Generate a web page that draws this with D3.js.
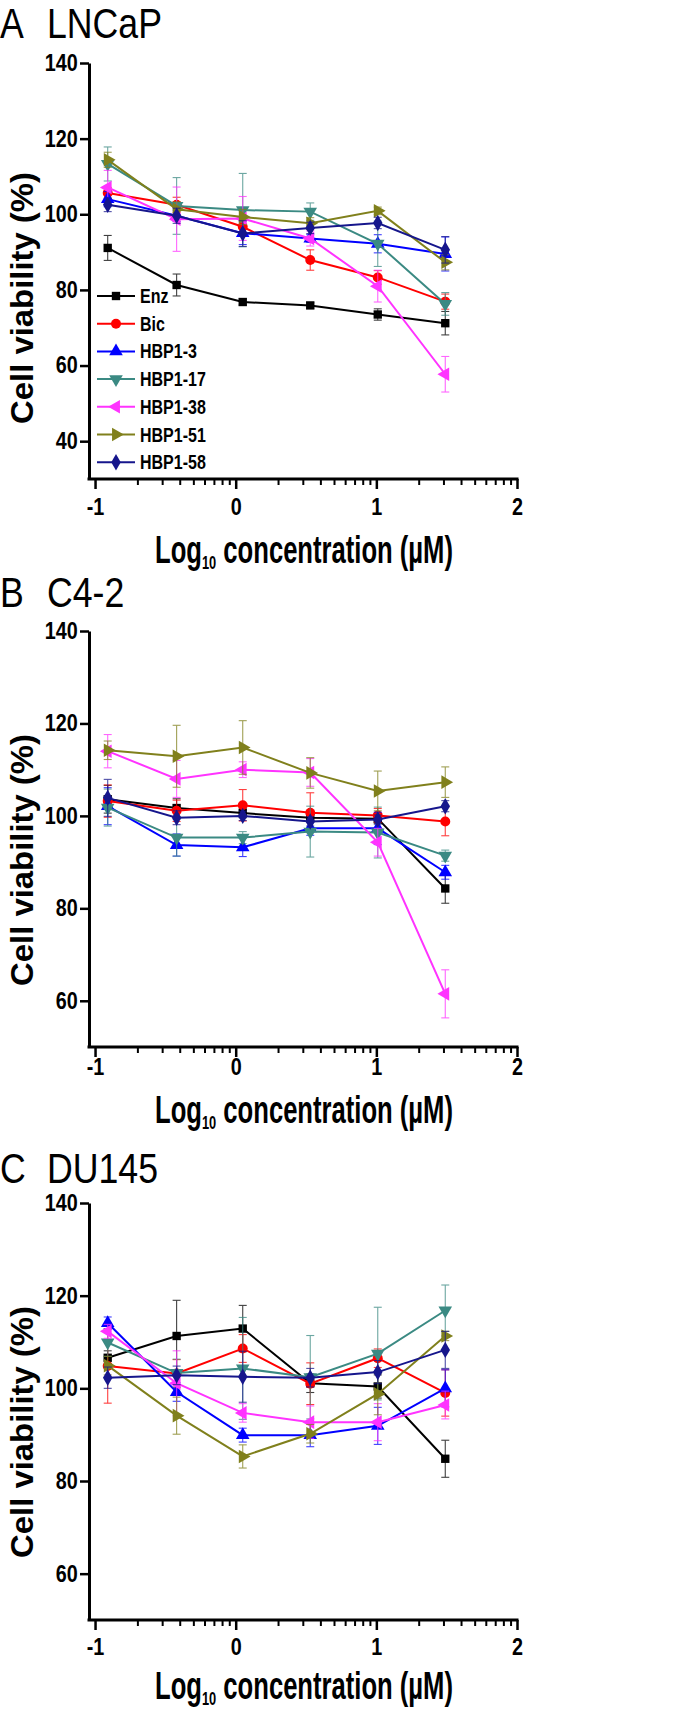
<!DOCTYPE html>
<html>
<head>
<meta charset="utf-8">
<script src="https://cdn.jsdelivr.net/npm/d3@7"></script>
<style>
  body { margin: 0; background: #fff; }
  svg { display: block; font-family: "Liberation Sans", Arial, Helvetica, sans-serif; }
</style>
</head>
<body>
<div id="chart"></div>
<script>
// series + x positions (log10 of concentration in uM)
const seriesNames = ["Enz", "Bic", "HBP1-3", "HBP1-17", "HBP1-38", "HBP1-51", "HBP1-58"];
const logConc = [-0.91, -0.42, 0.05, 0.53, 1.01, 1.49];
const xTickValues = [-1, 0, 1, 2];
const yTicksLncap = [40, 60, 80, 100, 120, 140];
const yTicksOther = [60, 80, 100, 120, 140];

// A  LNCaP
const lncapMean = [
  [91.1, 81.3, 76.8, 75.9, 73.5, 71.2],
  [105.6, 102.5, 96.7, 87.9, 83.3, 76.9],
  [104.0, 99.6, 95.0, 93.6, 92.2, 89.5],
  [113.3, 102.2, 101.1, 100.7, 92.2, 76.3],
  [107.1, 98.7, 98.9, 93.6, 81.0, 57.7],
  [114.4, 101.3, 99.3, 97.6, 100.9, 87.3],
  [102.5, 99.6, 94.9, 96.4, 97.7, 90.6]
];
const lncapSd = [
  [3.3, 2.9, 0.8, 0.7, 1.5, 3.1],
  [1.5, 2.0, 2.0, 2.7, 1.8, 2.0],
  [2.0, 1.5, 3.0, 1.0, 2.4, 4.5],
  [4.5, 7.5, 9.7, 2.3, 6.0, 3.0],
  [4.5, 8.5, 5.8, 2.0, 4.2, 4.7],
  [2.0, 2.0, 2.0, 1.5, 1.0, 2.0],
  [1.8, 2.0, 3.4, 1.5, 1.5, 3.5]
];

// B  C4-2
const c42Mean = [
  [103.6, 101.7, 100.6, 99.6, 99.4, 84.3],
  [103.2, 101.1, 102.3, 100.7, 100.1, 98.8],
  [102.1, 93.7, 93.2, 97.3, 97.3, 87.8],
  [101.8, 95.3, 95.3, 96.6, 96.4, 91.4],
  [114.0, 108.0, 110.0, 109.4, 94.3, 61.5],
  [114.2, 112.9, 114.8, 109.3, 105.4, 107.3],
  [103.9, 99.6, 100.0, 98.8, 99.2, 102.1]
];
const c42Sd = [
  [3.0, 2.0, 1.0, 1.0, 1.0, 3.2],
  [3.5, 2.3, 3.4, 4.3, 1.5, 3.1],
  [4.0, 2.4, 2.0, 1.5, 3.5, 1.5],
  [4.0, 4.0, 1.3, 5.5, 5.5, 1.2],
  [3.6, 4.0, 1.7, 3.0, 3.0, 5.2],
  [2.0, 6.7, 5.8, 3.3, 4.3, 3.3],
  [4.0, 1.5, 1.0, 1.0, 1.0, 1.2]
];

// C  DU145
const du145Mean = [
  [106.6, 111.3, 112.9, 101.1, 100.4, 84.8],
  [104.8, 103.2, 108.6, 101.0, 106.5, 99.0],
  [114.1, 99.2, 89.9, 89.9, 91.9, 100.0],
  [109.9, 103.3, 104.3, 102.4, 107.5, 116.8],
  [112.3, 101.1, 94.7, 92.7, 92.7, 96.4],
  [104.9, 94.1, 85.3, 90.2, 98.8, 111.3],
  [102.3, 102.8, 102.5, 102.3, 103.5, 108.3]
];
const du145Sd = [
  [1.5, 7.7, 5.0, 2.0, 2.5, 4.0],
  [8.0, 3.0, 3.0, 4.5, 2.0, 5.0],
  [1.3, 2.0, 1.5, 2.5, 4.0, 4.0],
  [3.0, 3.0, 11.0, 9.0, 10.0, 5.5],
  [1.5, 7.0, 2.0, 3.5, 4.0, 3.0],
  [2.0, 4.0, 2.5, 2.0, 4.5, 1.0],
  [2.3, 2.0, 5.5, 2.0, 2.5, 4.0]
];

// styles
const colors = ["#000000", "#ff0000", "#0000ff", "#3b8a83", "#ff33ff", "#80801c", "#16168c"];
const shapes = [
  { type: d3.symbolSquare, size: 70, rot: 0 },
  { type: d3.symbolCircle, size: 78, rot: 0 },
  { type: d3.symbolTriangle, size: 80, rot: 0 },
  { type: d3.symbolTriangle, size: 80, rot: 180 },
  { type: d3.symbolTriangle, size: 80, rot: -90 },
  { type: d3.symbolTriangle, size: 80, rot: 90 },
  { type: d3.symbolDiamond, size: 78, rot: 0 }
];

const width = 689, height = 1710;
const left = 89, right = 517;

const panels = [
  { letter: "A", cell: "LNCaP", mean: lncapMean, sd: lncapSd, yDomain: [30, 140], yTicks: yTicksLncap,
    top: 63, bottom: 479, labelY: 38, tickLabelY: 515, titleY: 563, yTitleY: 298, legend: true },
  { letter: "B", cell: "C4-2", mean: c42Mean, sd: c42Sd, yDomain: [50, 140], yTicks: yTicksOther,
    top: 631, bottom: 1047, labelY: 607, tickLabelY: 1075, titleY: 1123, yTitleY: 860, legend: false },
  { letter: "C", cell: "DU145", mean: du145Mean, sd: du145Sd, yDomain: [50, 140], yTicks: yTicksOther,
    top: 1203, bottom: 1620, labelY: 1183, tickLabelY: 1655, titleY: 1699, yTitleY: 1432, legend: false }
];

const svg = d3.select("#chart").append("svg")
  .attr("width", width)
  .attr("height", height);

const xScale = d3.scaleLinear().domain([-1.043, 2]).range([left, right]);

// log-style minor ticks inside each decade
const minorTicks = [];
[-1, 0, 1].forEach((d) => {
  for (let k = 2; k <= 9; k++) minorTicks.push(d + Math.log10(k));
});

const symbolPath = (i) => d3.symbol().type(shapes[i].type).size(shapes[i].size)();

function styleTickText(sel) {
  sel.attr("font-size", 23)
    .attr("font-weight", "bold")
    .attr("font-family", null)
    .attr("fill", "#000")
    .attr("transform", "scale(0.86,1)");
}

panels.forEach((p) => {
  const yScale = d3.scaleLinear().domain(p.yDomain).range([p.bottom, p.top]);
  const g = svg.append("g");

  // panel label
  g.append("text")
    .attr("transform", `translate(0,${p.labelY}) scale(0.83,1)`)
    .attr("font-size", 43)
    .text(p.letter);
  g.append("text")
    .attr("transform", `translate(47,${p.labelY}) scale(0.83,1)`)
    .attr("font-size", 43)
    .text(p.cell);

  // y axis
  const yAxisG = g.append("g")
    .attr("transform", `translate(${left},0)`)
    .call(d3.axisLeft(yScale).tickValues(p.yTicks).tickSize(9).tickSizeOuter(0).tickPadding(4));
  yAxisG.select(".domain").attr("stroke-width", 3);
  yAxisG.selectAll(".tick line").attr("stroke-width", 2.5);
  styleTickText(yAxisG.selectAll(".tick text"));

  // x axis: minor ticks then major ticks with labels
  const xMinorG = g.append("g")
    .attr("transform", `translate(0,${p.bottom})`)
    .call(d3.axisBottom(xScale).tickValues(minorTicks).tickSize(6).tickSizeOuter(0).tickFormat(""));
  xMinorG.select(".domain").remove();
  xMinorG.selectAll(".tick line").attr("stroke-width", 2);

  const labelPad = p.tickLabelY - p.bottom - 10 - 0.71 * 23;
  const xAxisG = g.append("g")
    .attr("transform", `translate(0,${p.bottom})`)
    .call(d3.axisBottom(xScale).tickValues(xTickValues).tickSize(10).tickSizeOuter(0)
      .tickPadding(labelPad).tickFormat((d) => String(d)));
  xAxisG.select(".domain").attr("stroke-width", 3)
    .attr("d", `M${left - 1.5},0H${right + 1.5}`);
  xAxisG.selectAll(".tick line").attr("stroke-width", 2.5);
  styleTickText(xAxisG.selectAll(".tick text"));

  // x title with subscript
  const xt = g.append("g").attr("transform", `translate(304,${p.titleY})`);
  const xText = xt.append("text")
    .attr("text-anchor", "middle")
    .attr("font-size", 38)
    .attr("font-weight", "bold");
  xText.append("tspan").text("Log");
  xText.append("tspan").attr("font-size", 19).attr("dy", 6).text("10");
  xText.append("tspan").attr("dy", -6).text(" concentration (µM)");
  const xw = xText.node().getBBox().width;
  xText.attr("transform", `scale(${298 / xw},1)`);

  // y title
  const yt = g.append("g").attr("transform", `translate(33,${p.yTitleY}) rotate(-90)`);
  const yText = yt.append("text")
    .attr("text-anchor", "middle")
    .attr("font-size", 32)
    .attr("font-weight", "bold")
    .text("Cell viability (%)");
  const yw = yText.node().getBBox().width;
  yText.attr("transform", `scale(${252 / yw},1)`);

  // series
  const line = d3.line().x((d) => xScale(d.x)).y((d) => yScale(d.y));
  seriesNames.forEach((name, i) => {
    const pts = logConc.map((x, j) => ({ x, y: p.mean[i][j], sd: p.sd[i][j] }));
    const sg = g.append("g").attr("class", "series");

    const eb = sg.append("g")
      .attr("stroke", colors[i])
      .attr("stroke-width", 1.1)
      .attr("opacity", 0.75);
    eb.selectAll("line.v").data(pts).join("line")
      .attr("class", "v")
      .attr("x1", (d) => xScale(d.x)).attr("x2", (d) => xScale(d.x))
      .attr("y1", (d) => yScale(d.y - d.sd)).attr("y2", (d) => yScale(d.y + d.sd));
    eb.selectAll("line.top").data(pts).join("line")
      .attr("class", "top")
      .attr("x1", (d) => xScale(d.x) - 4).attr("x2", (d) => xScale(d.x) + 4)
      .attr("y1", (d) => yScale(d.y + d.sd)).attr("y2", (d) => yScale(d.y + d.sd));
    eb.selectAll("line.bot").data(pts).join("line")
      .attr("class", "bot")
      .attr("x1", (d) => xScale(d.x) - 4).attr("x2", (d) => xScale(d.x) + 4)
      .attr("y1", (d) => yScale(d.y - d.sd)).attr("y2", (d) => yScale(d.y - d.sd));

    sg.append("path")
      .datum(pts)
      .attr("fill", "none")
      .attr("stroke", colors[i])
      .attr("stroke-width", 2)
      .attr("d", line);

    sg.selectAll("path.mk").data(pts).join("path")
      .attr("class", "mk")
      .attr("d", symbolPath(i))
      .attr("fill", colors[i])
      .attr("transform", (d) => `translate(${xScale(d.x)},${yScale(d.y)}) rotate(${shapes[i].rot})`);
  });

  // legend
  if (p.legend) {
    const lg = g.append("g");
    seriesNames.forEach((name, i) => {
      const ly = 296 + i * 27.7;
      lg.append("line")
        .attr("x1", 97).attr("x2", 135).attr("y1", ly).attr("y2", ly)
        .attr("stroke", colors[i]).attr("stroke-width", 2);
      lg.append("path")
        .attr("d", symbolPath(i))
        .attr("fill", colors[i])
        .attr("transform", `translate(116,${ly}) rotate(${shapes[i].rot})`);
      lg.append("text")
        .attr("transform", `translate(140,${ly + 7}) scale(0.8,1)`)
        .attr("font-size", 20)
        .attr("font-weight", "bold")
        .text(name);
    });
  }
});
</script>
</body>
</html>
